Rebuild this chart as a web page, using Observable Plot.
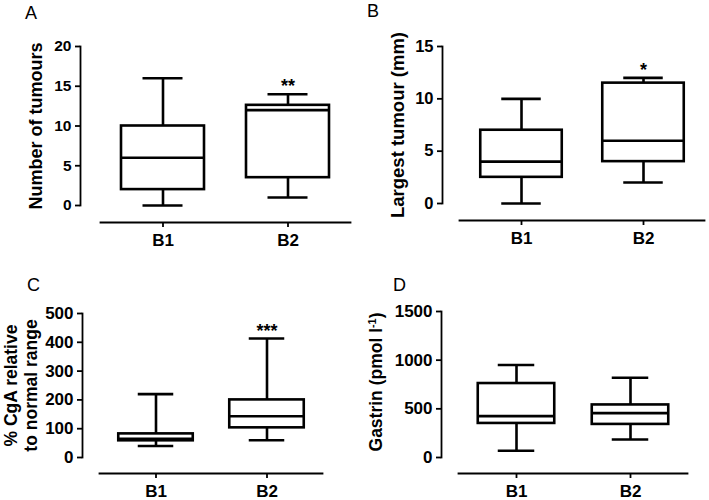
<!DOCTYPE html>
<html><head><meta charset="utf-8">
<script src="https://cdn.jsdelivr.net/npm/d3@7"></script>
<script src="https://cdn.jsdelivr.net/npm/@observablehq/plot@0.6"></script>
<style>
body{margin:0;background:#fff;}
#fig{position:relative;width:709px;height:500px;font-family:"Liberation Sans",Arial,sans-serif;color:#000;}
.panel{position:absolute;}
.letter{position:absolute;font-size:18px;line-height:18px;color:#000;}
.ylab{position:absolute;font-weight:bold;white-space:nowrap;transform:translate(-50%,-50%) rotate(-90deg);line-height:1;}
.ylab sup{font-size:0.62em;vertical-align:0.55em;line-height:0;}
</style></head><body><div id="fig"></div>
<script>
const categories = ["B1", "B2"];

// A: Number of tumours
const tumoursMin = [0, 1];
const tumoursQ1 = [2, 3.5];
const tumoursMedian = [6, 12];
const tumoursQ3 = [10, 12.6];
const tumoursMax = [16, 14];
const tumoursStars = ["", "**"];
const tumoursTicks = [0, 5, 10, 15, 20];

// B: Largest tumour (mm)
const largestMin = [0, 2];
const largestQ1 = [2.5, 4];
const largestMedian = [4, 6];
const largestQ3 = [7, 11.5];
const largestMax = [10, 12];
const largestStars = ["", "*"];
const largestTicks = [0, 5, 10, 15];

// C: % CgA relative to normal range
const cgaMin = [40, 60];
const cgaQ1 = [58, 103];
const cgaMedian = [65, 143];
const cgaQ3 = [82, 200];
const cgaMax = [220, 413];
const cgaStars = ["", "***"];
const cgaTicks = [0, 100, 200, 300, 400, 500];

// D: Gastrin (pmol l-1)
const gastrinMin = [70, 185];
const gastrinQ1 = [350, 340];
const gastrinMedian = [425, 456];
const gastrinQ3 = [760, 540];
const gastrinMax = [950, 820];
const gastrinStars = ["", ""];
const gastrinTicks = [0, 500, 1000, 1500];

const font = "Liberation Sans, Arial, Helvetica, sans-serif";

function boxPanel(o) {
  const rows = categories.map((c, i) => ({
    cat: c, min: o.min[i], q1: o.q1[i], med: o.med[i], q3: o.q3[i], max: o.max[i], star: o.stars[i]
  }));
  const sw = 2.6;
  const step = (o.xRange[1] - o.xRange[0]) / categories.length;
  const boxInset = (step - o.boxW) / 2;
  const capInset = (step - o.capW) / 2;
  const d = o.ticks;
  const marks = [
    Plot.frame({anchor: "left", insetBottom: o.axisY - o.yRange[0], strokeWidth: 1.8}),
    Plot.frame({anchor: "bottom", insetLeft: o.xRange[0] - o.ml, strokeWidth: 1.8}),
    Plot.axisY({ticks: d, tickSize: 5, tickPadding: 4, strokeWidth: 1.8, label: null, fontSize: o.tickSize, tickFormat: "d"}),
    Plot.axisX({tickSize: 5, tickPadding: 6, strokeWidth: 1.8, label: null, fontSize: 17}),
    Plot.ruleX(rows, {x: "cat", y1: "min", y2: "q1", strokeWidth: sw}),
    Plot.ruleX(rows, {x: "cat", y1: "q3", y2: "max", strokeWidth: sw}),
    Plot.tickY(rows, {x: "cat", y: "min", insetLeft: capInset, insetRight: capInset, strokeWidth: sw}),
    Plot.tickY(rows, {x: "cat", y: "max", insetLeft: capInset, insetRight: capInset, strokeWidth: sw}),
    Plot.barY(rows, {x: "cat", y1: "q1", y2: "q3", fill: "white", stroke: "black", strokeWidth: sw, insetLeft: boxInset, insetRight: boxInset}),
    Plot.tickY(rows, {x: "cat", y: "med", insetLeft: boxInset, insetRight: boxInset, strokeWidth: sw}),
    Plot.text(rows, {x: "cat", y: "max", text: "star", dy: o.starDy, lineAnchor: "bottom", fontSize: 18, fontWeight: "bold"})
  ];
  if (o.label) {
    marks.push(Plot.text([o.label], {
      frameAnchor: "left", y: () => (d[0] + d[d.length - 1]) / 2, text: (t) => t,
      rotate: -90, dx: -o.labelOffset, lineAnchor: "top", textAnchor: "middle",
      fontSize: o.labelSize, fontWeight: "bold", lineHeight: o.lineHeight || 1
    }));
  }
  return Plot.plot({
    width: o.width, height: 250,
    marginLeft: o.ml, marginRight: o.width - o.xRange[1], marginTop: o.yRange[1], marginBottom: 250 - o.axisY,
    style: {fontFamily: font, fontWeight: "bold", fontSize: "16px", color: "#000", background: "transparent", overflow: "visible"},
    x: {domain: categories, range: o.xRange, padding: 0},
    y: {domain: [d[0], d[d.length - 1]], range: o.yRange},
    marks
  });
}

const panels = [
  {letter: "A", left: 0, top: 0, lx: 25, ly: 4, width: 354, ml: 80, xRange: [100, 350], yRange: [205, 46], axisY: 222,
   boxW: 83, capW: 40, min: tumoursMin, q1: tumoursQ1, med: tumoursMedian, q3: tumoursQ3, max: tumoursMax,
   stars: tumoursStars, ticks: tumoursTicks, tickSize: 15.5, label: "Number of tumours", labelOffset: 51, labelSize: 18, starDy: -2},
  {letter: "B", left: 354, top: 0, lx: 13, ly: 2, width: 355, ml: 88, xRange: [105, 350], yRange: [203, 46], axisY: 220,
   boxW: 82, capW: 40, min: largestMin, q1: largestQ1, med: largestMedian, q3: largestQ3, max: largestMax,
   stars: largestStars, ticks: largestTicks, tickSize: 16.5, label: "Largest tumour (mm)", labelOffset: 52, labelSize: 18.5, starDy: -2},
  {letter: "C", left: 0, top: 250, lx: 27, ly: 26, width: 354, ml: 82, xRange: [99, 322], yRange: [207, 63], axisY: 223,
   boxW: 75, capW: 36, min: cgaMin, q1: cgaQ1, med: cgaMedian, q3: cgaQ3, max: cgaMax,
   stars: cgaStars, ticks: cgaTicks, tickSize: 17, label: "% CgA relative\nto normal range", labelOffset: 80, labelSize: 17.5, lineHeight: 1.15, starDy: -2},
  {letter: "D", left: 354, top: 250, lx: 39, ly: 26, width: 355, ml: 87, xRange: [104, 333], yRange: [207, 61], axisY: 223,
   boxW: 77, capW: 37, min: gastrinMin, q1: gastrinQ1, med: gastrinMedian, q3: gastrinQ3, max: gastrinMax,
   stars: gastrinStars, ticks: gastrinTicks, tickSize: 17, label: null, starDy: -2,
   htmlLabel: "Gastrin (pmol l<sup>-1</sup>)", hx: 23, hy: 132, hSize: 17.5}
];

const fig = document.getElementById("fig");
for (const p of panels) {
  const wrap = document.createElement("div");
  wrap.className = "panel";
  wrap.style.left = p.left + "px";
  wrap.style.top = p.top + "px";
  wrap.appendChild(boxPanel(p));
  const letter = document.createElement("div");
  letter.className = "letter";
  letter.textContent = p.letter;
  letter.style.left = p.lx + "px";
  letter.style.top = p.ly + "px";
  wrap.appendChild(letter);
  if (p.htmlLabel) {
    const lab = document.createElement("div");
    lab.className = "ylab";
    lab.innerHTML = p.htmlLabel;
    lab.style.left = p.hx + "px";
    lab.style.top = p.hy + "px";
    lab.style.fontSize = p.hSize + "px";
    wrap.appendChild(lab);
  }
  fig.appendChild(wrap);
}
</script></body></html>
